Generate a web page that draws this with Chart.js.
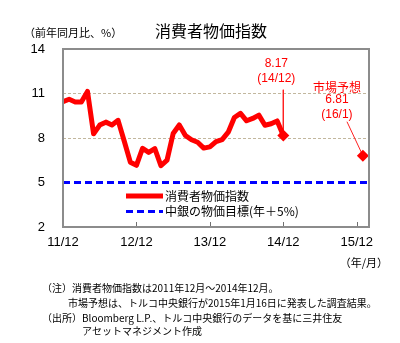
<!DOCTYPE html>
<html><head><meta charset="utf-8">
<script src="https://cdn.jsdelivr.net/npm/chart.js@4/dist/chart.umd.min.js"></script>
<style>html,body{margin:0;padding:0;background:#fff;}#wrap{width:400px;height:343px;position:relative;}</style>
</head><body><div id="wrap"><canvas id="c" width="400" height="343"></canvas></div>
<script>
// ---- data ----
const cpiMonths = ['11/12','12/01','12/02','12/03','12/04','12/05','12/06','12/07','12/08','12/09','12/10','12/11','12/12',
  '13/01','13/02','13/03','13/04','13/05','13/06','13/07','13/08','13/09','13/10','13/11','13/12',
  '14/01','14/02','14/03','14/04','14/05','14/06','14/07','14/08','14/09','14/10','14/11','14/12'];
const cpiValues = [10.45,10.61,10.43,10.43,11.14,8.28,8.87,9.07,8.88,9.19,7.80,6.37,6.16,
  7.31,7.03,7.29,6.13,6.51,8.30,8.88,8.17,7.88,7.71,7.32,7.40,
  7.75,7.89,8.39,9.38,9.66,9.16,9.32,9.54,8.86,8.96,9.15,8.17];
const forecastMonth = '16/01';
const forecastValue = 6.81;
const targetValue = 5;
const xTickLabels = ['11/12','12/12','13/12','14/12','15/12'];
const xRange = ['11/12','16/02'];
const yTicks = [14,11,8,5,2];
const seriesNames = ['消費者物価指数','中銀の物価目標(年＋5%)'];
const lastLabel = ['8.17','(14/12)'];
const forecastLabel = ['市場予想','6.81','(16/1)'];
const titleText = '消費者物価指数';
const unitText = '（前年同月比、%）';
const xUnitText = '（年/月）';
const notes = ['（注）消費者物価指数は2011年12月～2014年12月。',
  '市場予想は、トルコ中央銀行が2015年1月16日に発表した調査結果。',
  '（出所）Bloomberg L.P.、トルコ中央銀行のデータを基に三井住友',
  'アセットマネジメント作成'];

function monthPos(lbl){const p=lbl.split('/').map(Number);return (p[0]-11)*12+(p[1]-12);}

const cpiPoints = cpiMonths.map((m,i)=>({x:monthPos(m),y:cpiValues[i]}));
const lastPos = monthPos(cpiMonths[cpiMonths.length-1]);
const fcPos = monthPos(forecastMonth);
const xMin = monthPos(xRange[0]), xMax = monthPos(xRange[1]);
const xTickVals = xTickLabels.map(monthPos);

const JP = '"Noto Sans CJK JP", sans-serif';
const LAT = '"Liberation Sans", Arial, sans-serif';
const RED = '#ff0000', BLUE = '#0000ff';

const decor = {
  id:'decor',
  beforeDatasetsDraw(chart){
    const {ctx, chartArea:a} = chart;
    const xs = chart.scales.x;
    ctx.save();
    ctx.strokeStyle='#707070'; ctx.lineWidth=1;
    xTickVals.forEach(v=>{ if(v<=xMin) return; const px=Math.round(xs.getPixelForValue(v))+0.5;
      ctx.beginPath(); ctx.moveTo(px,a.bottom); ctx.lineTo(px,a.bottom-5); ctx.stroke(); });
    ctx.restore();
  },
  afterDatasetsDraw(chart){
    const {ctx, chartArea:a} = chart;
    const xs = chart.scales.x;
    ctx.save();
    ctx.strokeStyle='#8c8c8c'; ctx.lineWidth=2;
    ctx.strokeRect(a.left, a.top, a.right-a.left, a.bottom-a.top);
    ctx.fillStyle='#000'; ctx.textBaseline='middle';
    ctx.font='16px '+JP; ctx.textAlign='center';
    ctx.fillText(titleText, 211, 31);
    ctx.font='11px '+JP; ctx.textAlign='left';
    ctx.fillText(unitText, 24, 33);
    ctx.textAlign='right';
    ctx.fillText(xUnitText, 388, 263);
    // legend
    ctx.lineCap='butt';
    ctx.strokeStyle=RED; ctx.lineWidth=5;
    ctx.beginPath(); ctx.moveTo(126,196); ctx.lineTo(163,196); ctx.stroke();
    ctx.strokeStyle=BLUE; ctx.lineWidth=3; ctx.setLineDash([7,4]);
    ctx.beginPath(); ctx.moveTo(126,211.5); ctx.lineTo(163,211.5); ctx.stroke();
    ctx.setLineDash([]);
    ctx.fillStyle='#000'; ctx.font='12px '+JP; ctx.textAlign='left';
    ctx.fillText(seriesNames[0], 165, 196);
    ctx.fillText(seriesNames[1], 165, 211.5);
    // annotations
    ctx.fillStyle=RED; ctx.textAlign='center';
    const lx = xs.getPixelForValue(lastPos)-7;
    ctx.font='12px '+LAT; ctx.fillText(lastLabel[0], lx, 64);
    ctx.fillText(lastLabel[1], lx, 79);
    const fx = xs.getPixelForValue(fcPos)-26;
    ctx.font='12px '+JP; ctx.fillText(forecastLabel[0], fx, 87);
    ctx.font='12px '+LAT; ctx.fillText(forecastLabel[1], fx, 100);
    ctx.fillText(forecastLabel[2], fx, 115);
    // notes
    ctx.fillStyle='#000'; ctx.textAlign='left'; ctx.font='10px '+JP;
    ctx.fillText(notes[0], 42, 288);
    ctx.fillText(notes[1], 68, 303);
    ctx.fillText(notes[2], 42, 318);
    ctx.fillText(notes[3], 82, 331);
    ctx.restore();
  }
};

new Chart(document.getElementById('c'), {
  type:'line',
  data:{ datasets:[
    { label:'lead1', data:[{x:lastPos,y:11.25},{x:lastPos,y:cpiValues[cpiValues.length-1]}],
      borderColor:'#ff2020', borderWidth:1, pointRadius:0, order:3 },
    { label:'lead2', data:[{x:fcPos-2.6,y:9.1},{x:fcPos,y:forecastValue}],
      borderColor:'#ff2020', borderWidth:1, pointRadius:0, order:3 },
    { label:seriesNames[1], data:[{x:xMin,y:targetValue},{x:xMax,y:targetValue}],
      borderColor:BLUE, borderWidth:3, borderDash:[7,4], pointRadius:0, order:2 },
    { label:seriesNames[0], data:cpiPoints, borderColor:RED, backgroundColor:RED, borderWidth:5,
      pointStyle:'rectRot', pointRadius:c=>c.dataIndex===cpiPoints.length-1?6:0,
      pointBorderWidth:0, borderJoinStyle:'round', borderCapStyle:'butt', tension:0, order:1 },
    { label:'forecast', data:[{x:fcPos,y:forecastValue}], showLine:false,
      pointStyle:'rectRot', pointRadius:6, pointBorderWidth:0, backgroundColor:RED, borderColor:RED, order:1 }
  ]},
  options:{
    responsive:false, animation:false, devicePixelRatio:1,
    layout:{ padding:{left:0, top:49, right:31, bottom:0} },
    plugins:{ legend:{display:false}, tooltip:{enabled:false}, title:{display:false} },
    scales:{
      x:{ type:'linear', min:xMin, max:xMax,
        afterFit:s=>{ s.height=116; },
        afterBuildTicks:s=>{ s.ticks = xTickVals.map(v=>({value:v})); },
        grid:{ display:false, drawTicks:false }, border:{display:false},
        ticks:{ autoSkip:false, maxRotation:0, padding:8, color:'#000', font:{family:LAT, size:13},
          callback:v=>{ const i=xTickVals.indexOf(v); return i>=0?xTickLabels[i]:''; } } },
      y:{ min:2, max:14,
        afterFit:s=>{ s.width=63; },
        afterBuildTicks:s=>{ s.ticks = yTicks.map(v=>({value:v})); },
        grid:{ drawTicks:false, lineWidth:1,
          color:c=>(c.tick && (c.tick.value===11 || c.tick.value===8)) ? '#c2b79e' : 'rgba(0,0,0,0)' },
        border:{ display:false, dash:[3,2] },
        ticks:{ padding:18, color:'#000', font:{family:LAT, size:13} } }
    }
  },
  plugins:[decor]
});
</script></body></html>
